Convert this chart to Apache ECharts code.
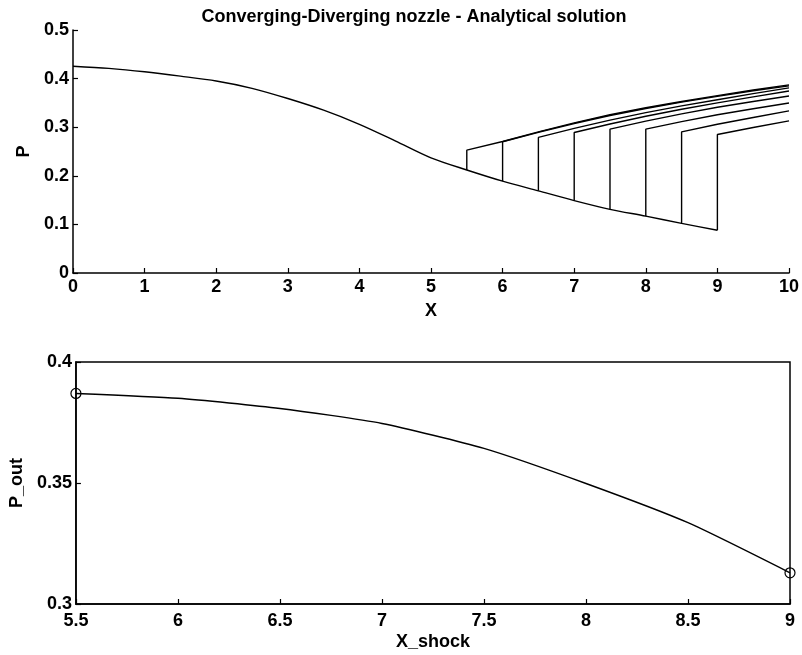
<!DOCTYPE html>
<html>
<head>
<meta charset="utf-8">
<script src="https://cdn.jsdelivr.net/npm/echarts@6/dist/echarts.min.js"></script>
<style>
html,body{margin:0;padding:0;background:#fff;}
#chart{width:802px;height:655px;}
</style>
</head>
<body>
<div id="chart"></div>
<script>
// Main (pre-shock / supersonic) pressure distribution
const xMain = [0,0.5,1,1.5,2,2.5,3,3.5,4,4.5,5,5.5,6,6.5,7,7.5,8,8.5,9];
const pMain = [0.4255,0.421,0.414,0.405,0.395,0.380,0.359,0.335,0.306,0.272,0.237,0.212,0.189,0.169,0.149,0.131,0.117,0.102,0.088];

// Diverging section grid
const xDiv = [5.5,6,6.5,7,7.5,8,8.5,9,9.5,10];

// Shock locations
const shockX = [5.5,6,6.5,7,7.5,8,8.5,9];

// Post-shock branches (values from shock location to x=10)
const b55 = [0.2527,0.2705,0.2905,0.309,0.3255,0.340,0.353,0.365,0.3765,0.387];
const b60 = [0.270,0.2895,0.3075,0.324,0.3385,0.3515,0.3635,0.375,0.385];
const b65 = [0.279,0.2975,0.3145,0.330,0.344,0.3565,0.369,0.3808];
const b70 = [0.289,0.3065,0.3225,0.337,0.350,0.3625,0.3746];
const b75 = [0.296,0.3125,0.3275,0.341,0.353,0.3643];
const b80 = [0.296,0.3115,0.3255,0.338,0.3498];
const b85 = [0.2905,0.306,0.320,0.3336];
const b90 = [0.285,0.2995,0.3129];
const branches = [b55,b60,b65,b70,b75,b80,b85,b90];

// Outlet pressure vs shock location
const xShock = [5.5,6,6.5,7,7.5,8,8.5,9];
const pOut = [0.387,0.385,0.3808,0.3746,0.3643,0.3498,0.3336,0.3129];

const topXTicks = [0,10,1];
const topYTicks = [0,0.5,0.1];
const botXTicks = [5.5,9,0.5];
const botYTicks = [0.3,0.4,0.05];

const FONT = '"Liberation Sans", Arial, Helvetica, sans-serif';
const lbl = {color:'#000', fontFamily:FONT, fontWeight:'bold', fontSize:18};
const lineStyle = {color:'#000', width:1.4};

const series = [];
series.push({
  type:'line', xAxisIndex:0, yAxisIndex:0, symbol:'none', smooth:0.3,
  lineStyle:lineStyle, data:xMain.map((x,i)=>[x,pMain[i]])
});
branches.forEach((b,k)=>{
  const xs = shockX[k];
  const i0 = xDiv.indexOf(xs);
  const lower = pMain[xMain.indexOf(xs)];
  const d = [[xs, lower]];
  b.forEach((v,j)=>d.push([xDiv[i0+j], v]));
  series.push({type:'line', xAxisIndex:0, yAxisIndex:0, symbol:'none', lineStyle:lineStyle, data:d});
});
series.push({
  type:'line', xAxisIndex:1, yAxisIndex:1, symbol:'none', lineStyle:lineStyle, smooth:0.2,
  data:xShock.map((x,i)=>[x,pOut[i]])
});
series.push({
  type:'scatter', xAxisIndex:1, yAxisIndex:1, symbol:'circle', symbolSize:10, clip:false, z:5,
  itemStyle:{color:'rgba(0,0,0,0)', borderColor:'#000', borderWidth:1.2, opacity:1},
  data:[[xShock[0],pOut[0]],[xShock[xShock.length-1],pOut[pOut.length-1]]]
});

const axisLine = {show:true, lineStyle:{color:'#000', width:1.5}};
const tick = {show:true, inside:true, length:5, lineStyle:{color:'#000', width:1.2}};

const option = {
  animation:false,
  backgroundColor:'#fff',
  title:{
    text:'Converging-Diverging nozzle - Analytical solution',
    left:409, top:3, textAlign:'center',
    textStyle:{color:'#000', fontFamily:FONT, fontWeight:'bold', fontSize:18}
  },
  grid:[
    {left:73, top:30, width:718, height:243, show:false},
    {left:73, top:362, width:717, height:242, show:true, borderColor:'#000', borderWidth:1.5, backgroundColor:'transparent'}
  ],
  xAxis:[
    {gridIndex:0, type:'value', min:topXTicks[0], max:topXTicks[1], interval:topXTicks[2],
     axisLine:axisLine, axisTick:tick, splitLine:{show:false},
     axisLabel:Object.assign({margin:5}, lbl),
     name:'X', nameLocation:'middle', nameGap:29, nameTextStyle:lbl},
    {gridIndex:1, type:'value', min:botXTicks[0], max:botXTicks[1], interval:botXTicks[2],
     axisLine:axisLine, axisTick:tick, splitLine:{show:false},
     axisLabel:Object.assign({margin:8}, lbl),
     name:'X_shock', nameLocation:'middle', nameGap:29, nameTextStyle:lbl}
  ],
  yAxis:[
    {gridIndex:0, type:'value', min:topYTicks[0], max:topYTicks[1], interval:topYTicks[2],
     axisLine:axisLine, axisTick:tick, splitLine:{show:false},
     axisLabel:Object.assign({margin:4}, lbl),
     name:'P', nameLocation:'middle', nameGap:38, nameTextStyle:lbl},
    {gridIndex:1, type:'value', min:botYTicks[0], max:botYTicks[1], interval:botYTicks[2],
     axisLine:axisLine, axisTick:tick, splitLine:{show:false},
     axisLabel:Object.assign({margin:4}, lbl),
     name:'P_out', nameLocation:'middle', nameGap:48, nameTextStyle:lbl}
  ],
  series:series
};

const chart = echarts.init(document.getElementById('chart'), null, {renderer:'canvas'});
chart.setOption(option);
</script>
</body>
</html>
